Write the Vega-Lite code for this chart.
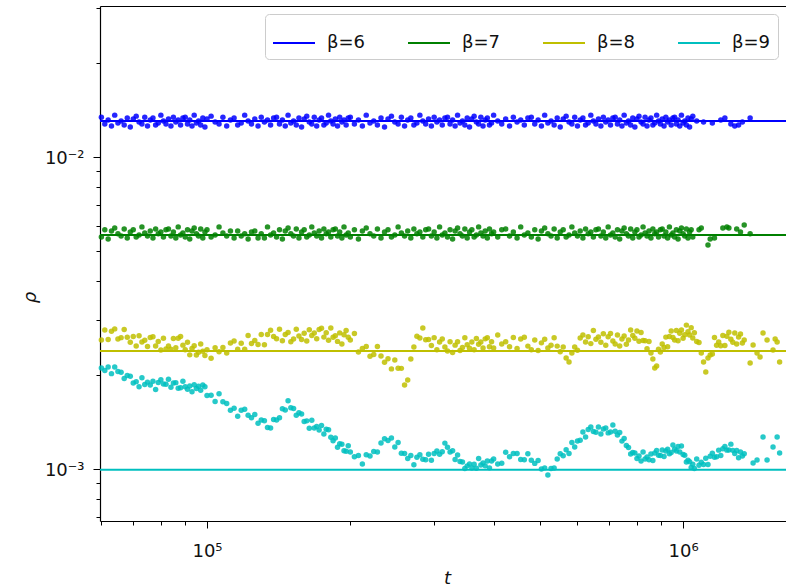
{
"$schema":"https://vega.github.io/schema/vega-lite/v6.json",
"width":686,"height":515,"autosize":"none",
"padding":{"left":100,"top":6,"right":0,"bottom":66},
"background":"white",
"config":{"font":"DejaVu Sans","view":{"stroke":null},
"axis":{"grid":false,"domainColor":"#000","domainWidth":1.2,"tickColor":"#000","tickWidth":1,"labelColor":"#111","titleColor":"#111","labelFontSize":18,"labelFont":"DejaVu Sans","titleFont":"DejaVu Sans"}},
"datasets":{
"pts":[
{"t":60000,"6":0.01342,"7":0.00554,"8":0.002591,"9":0.002107},
{"t":61000,"6":0.01276,"7":0.00584,"8":0.002787,"9":0.002068},
{"t":62000,"6":0.01314,"7":0.00546,"8":0.002599,"9":0.002123},
{"t":63000,"6":0.01258,"7":0.00579,"8":0.002761,"9":0.002021},
{"t":64000,"6":0.01362,"7":0.00592,"8":0.002812,"9":0.002123},
{"t":65000,"6":0.01285,"7":0.00567,"8":0.002610,"9":0.002054},
{"t":66000,"6":0.01304,"7":0.00558,"8":0.002636,"9":0.002040},
{"t":67000,"6":0.01267,"7":0.00588,"8":0.002800,"9":0.001949},
{"t":68000,"6":0.01333,"7":0.00550,"8":0.002644,"9":0.001992},
{"t":69000,"6":0.01248,"7":0.00575,"8":0.002549,"9":0.001982},
{"t":70000,"6":0.01323,"7":0.00584,"8":0.002657,"9":0.001887},
{"t":71000,"6":0.01352,"7":0.00554,"8":0.002480,"9":0.001905},
{"t":72000,"6":0.01295,"7":0.00562,"8":0.002674,"9":0.001835},
{"t":73000,"6":0.01276,"7":0.00597,"8":0.002551,"9":0.001962},
{"t":74000,"6":0.01342,"7":0.00571,"8":0.002585,"9":0.001866},
{"t":75000,"6":0.01258,"7":0.00558,"8":0.002471,"9":0.001898},
{"t":76000,"6":0.01314,"7":0.00579,"8":0.002638,"9":0.001859},
{"t":77000,"6":0.01333,"7":0.00550,"8":0.002653,"9":0.001909},
{"t":78000,"6":0.01267,"7":0.00588,"8":0.002480,"9":0.001797},
{"t":79000,"6":0.01285,"7":0.00567,"8":0.002561,"9":0.001893},
{"t":80000,"6":0.01362,"7":0.00575,"8":0.002405,"9":0.001932},
{"t":81000,"6":0.01304,"7":0.00554,"8":0.002626,"9":0.001873},
{"t":82000,"6":0.01276,"7":0.00584,"8":0.002425,"9":0.001869},
{"t":83000,"6":0.01323,"7":0.00588,"8":0.002478,"9":0.001938},
{"t":84000,"6":0.01258,"7":0.00558,"8":0.002418,"9":0.001829},
{"t":85000,"6":0.01342,"7":0.00575,"8":0.002620,"9":0.001887},
{"t":86000,"6":0.01295,"7":0.00550,"8":0.002445,"9":0.001891},
{"t":87000,"6":0.01314,"7":0.00597,"8":0.002622,"9":0.001815},
{"t":88000,"6":0.01267,"7":0.00562,"8":0.002659,"9":0.001821},
{"t":89000,"6":0.01333,"7":0.00571,"8":0.002494,"9":0.001909},
{"t":90000,"6":0.01342,"7":0.00554,"8":0.002410,"9":0.001834},
{"t":91000,"6":0.01276,"7":0.00584,"8":0.002547,"9":0.001800},
{"t":92000,"6":0.01314,"7":0.00546,"8":0.002321,"9":0.001846},
{"t":93000,"6":0.01258,"7":0.00579,"8":0.002434,"9":0.001769},
{"t":94000,"6":0.01362,"7":0.00592,"8":0.002483,"9":0.001863},
{"t":95000,"6":0.01285,"7":0.00567,"8":0.002317,"9":0.001812},
{"t":96000,"6":0.01304,"7":0.00558,"8":0.002367,"9":0.001840},
{"t":97000,"6":0.01267,"7":0.00588,"8":0.002517,"9":0.001789},
{"t":98000,"6":0.01333,"7":0.00550,"8":0.002383,"9":0.001858},
{"t":99000,"6":0.01248,"7":0.00575,"8":0.002309,"9":0.001834},
{"t":100000,"6":0.01323,"7":0.00584,"8":0.002412,"9":0.001721},
{"t":102000,"6":0.01352,"7":0.00554,"8":0.002262,"9":0.001723},
{"t":104000,"6":0.01295,"7":0.00562,"8":0.002445,"9":0.001646},
{"t":106000,"6":0.01276,"7":0.00597,"8":0.002376,"9":0.001743},
{"t":108000,"6":0.01342,"7":0.00571,"8":0.002451,"9":0.001641},
{"t":110000,"6":0.01258,"7":0.00558,"8":0.002353,"9":0.001620},
{"t":112000,"6":0.01314,"7":0.00579,"8":0.002534,"9":0.001542},
{"t":114000,"6":0.01333,"7":0.00550,"8":0.002572,"9":0.001566},
{"t":116000,"6":0.01267,"7":0.00579,"8":0.002421,"9":0.001475},
{"t":118000,"6":0.01285,"7":0.00558,"8":0.002530,"9":0.001542},
{"t":120000,"6":0.01362,"7":0.00567,"8":0.002418,"9":0.001553},
{"t":122000,"6":0.01304,"7":0.00546,"8":0.002678,"9":0.001486},
{"t":124000,"6":0.01276,"7":0.00575,"8":0.002524,"9":0.001460},
{"t":126000,"6":0.01323,"7":0.00579,"8":0.002581,"9":0.001494},
{"t":128000,"6":0.01258,"7":0.00550,"8":0.002505,"9":0.001402},
{"t":130000,"6":0.01342,"7":0.00567,"8":0.002696,"9":0.001436},
{"t":132000,"6":0.01295,"7":0.00550,"8":0.002502,"9":0.001428},
{"t":134000,"6":0.01314,"7":0.00597,"8":0.002698,"9":0.001359},
{"t":136000,"6":0.01267,"7":0.00562,"8":0.002783,"9":0.001352},
{"t":138000,"6":0.01333,"7":0.00571,"8":0.002659,"9":0.001440},
{"t":140000,"6":0.01342,"7":0.00554,"8":0.002614,"9":0.001435},
{"t":142000,"6":0.01276,"7":0.00584,"8":0.002806,"9":0.001460},
{"t":144000,"6":0.01314,"7":0.00546,"8":0.002577,"9":0.001559},
{"t":146000,"6":0.01258,"7":0.00579,"8":0.002696,"9":0.001545},
{"t":148000,"6":0.01362,"7":0.00592,"8":0.002739,"9":0.001655},
{"t":150000,"6":0.01285,"7":0.00567,"8":0.002555,"9":0.001572},
{"t":152000,"6":0.01304,"7":0.00558,"8":0.002610,"9":0.001562},
{"t":154000,"6":0.01267,"7":0.00588,"8":0.002802,"9":0.001487},
{"t":156000,"6":0.01333,"7":0.00550,"8":0.002669,"9":0.001514},
{"t":158000,"6":0.01248,"7":0.00575,"8":0.002599,"9":0.001499},
{"t":160000,"6":0.01323,"7":0.00584,"8":0.002722,"9":0.001419},
{"t":162000,"6":0.01352,"7":0.00554,"8":0.002572,"9":0.001426},
{"t":164000,"6":0.01295,"7":0.00562,"8":0.002793,"9":0.001350},
{"t":166000,"6":0.01276,"7":0.00597,"8":0.002680,"9":0.001432},
{"t":168000,"6":0.01342,"7":0.00571,"8":0.002726,"9":0.001354},
{"t":170000,"6":0.01258,"7":0.00558,"8":0.002614,"9":0.001369},
{"t":172000,"6":0.01314,"7":0.00579,"8":0.002797,"9":0.001333},
{"t":174000,"6":0.01333,"7":0.00550,"8":0.002825,"9":0.001377},
{"t":176000,"6":0.01267,"7":0.00588,"8":0.002646,"9":0.001295},
{"t":178000,"6":0.01285,"7":0.00567,"8":0.002732,"9":0.001340},
{"t":180000,"6":0.01362,"7":0.00575,"8":0.002585,"9":0.001335},
{"t":182000,"6":0.01304,"7":0.00554,"8":0.002832,"9":0.001263},
{"t":184000,"6":0.01276,"7":0.00584,"8":0.002642,"9":0.001232},
{"t":186000,"6":0.01323,"7":0.00588,"8":0.002671,"9":0.001256},
{"t":188000,"6":0.01258,"7":0.00558,"8":0.002564,"9":0.001173},
{"t":190000,"6":0.01342,"7":0.00575,"8":0.002730,"9":0.001204},
{"t":192000,"6":0.01295,"7":0.00550,"8":0.002517,"9":0.001199},
{"t":194000,"6":0.01314,"7":0.00597,"8":0.002694,"9":0.001144},
{"t":196000,"6":0.01267,"7":0.00562,"8":0.002777,"9":0.001140},
{"t":198000,"6":0.01333,"7":0.00571,"8":0.002642,"9":0.001187},
{"t":200000,"6":0.01342,"7":0.00554,"8":0.002591,"9":0.001133},
{"t":204000,"6":0.01276,"7":0.00584,"8":0.002716,"9":0.001094},
{"t":208000,"6":0.01314,"7":0.00546,"8":0.002371,"9":0.001105},
{"t":212000,"6":0.01258,"7":0.00579,"8":0.002432,"9":0.001038},
{"t":216000,"6":0.01362,"7":0.00592,"8":0.002471,"9":0.001111},
{"t":220000,"6":0.01285,"7":0.00567,"8":0.002297,"9":0.001100},
{"t":224000,"6":0.01304,"7":0.00558,"8":0.002326,"9":0.001137},
{"t":228000,"6":0.01267,"7":0.00588,"8":0.002469,"9":0.001134},
{"t":232000,"6":0.01333,"7":0.00550,"8":0.002302,"9":0.001212},
{"t":236000,"6":0.01248,"7":0.00575,"8":0.002198,"9":0.001250},
{"t":240000,"6":0.01323,"7":0.00584,"8":0.002257,"9":0.001233},
{"t":244000,"6":0.01352,"7":0.00554,"8":0.002093,"9":0.001257},
{"t":248000,"6":0.01295,"7":0.00562,"8":0.002235,"9":0.001175},
{"t":252000,"6":0.01276,"7":0.00597,"8":0.002104,"9":0.001216},
{"t":256000,"6":0.01342,"7":0.00571,"8":0.002101,"9":0.001122},
{"t":260000,"6":0.01258,"7":0.00558,"8":0.001859,"9":0.001121},
{"t":264000,"6":0.01314,"7":0.00579,"8":0.001929,"9":0.001080},
{"t":268000,"6":0.01333,"7":0.00550,"8":0.002252,"9":0.001104},
{"t":272000,"6":0.01267,"7":0.00588,"8":0.002460,"9":0.001032},
{"t":276000,"6":0.01285,"7":0.00567,"8":0.002661,"9":0.001090},
{"t":280000,"6":0.01362,"7":0.00575,"8":0.002630,"9":0.001111},
{"t":284000,"6":0.01304,"7":0.00554,"8":0.002832,"9":0.001075},
{"t":288000,"6":0.01276,"7":0.00584,"8":0.002597,"9":0.001071},
{"t":292000,"6":0.01323,"7":0.00588,"8":0.002601,"9":0.001115},
{"t":296000,"6":0.01258,"7":0.00558,"8":0.002487,"9":0.001067},
{"t":300000,"6":0.01342,"7":0.00575,"8":0.002636,"9":0.001120},
{"t":304000,"6":0.01295,"7":0.00550,"8":0.002409,"9":0.001142},
{"t":308000,"6":0.01314,"7":0.00597,"8":0.002553,"9":0.001114},
{"t":312000,"6":0.01267,"7":0.00562,"8":0.002610,"9":0.001136},
{"t":316000,"6":0.01333,"7":0.00571,"8":0.002458,"9":0.001210},
{"t":320000,"6":0.01342,"7":0.00554,"8":0.002388,"9":0.001173},
{"t":324000,"6":0.01276,"7":0.00584,"8":0.002559,"9":0.001133},
{"t":328000,"6":0.01314,"7":0.00546,"8":0.002364,"9":0.001143},
{"t":332000,"6":0.01258,"7":0.00579,"8":0.002494,"9":0.001072},
{"t":336000,"6":0.01362,"7":0.00592,"8":0.002557,"9":0.001109},
{"t":340000,"6":0.01285,"7":0.00567,"8":0.002396,"9":0.001057},
{"t":344000,"6":0.01304,"7":0.00558,"8":0.002449,"9":0.001053},
{"t":348000,"6":0.01267,"7":0.00588,"8":0.002632,"9":0.001003},
{"t":352000,"6":0.01333,"7":0.00550,"8":0.002503,"9":0.001023},
{"t":356000,"6":0.01248,"7":0.00575,"8":0.002436,"9":0.001038},
{"t":360000,"6":0.01323,"7":0.00584,"8":0.002551,"9":0.001007},
{"t":364000,"6":0.01352,"7":0.00554,"8":0.002409,"9":0.001035},
{"t":368000,"6":0.01295,"7":0.00562,"8":0.002620,"9":0.001005},
{"t":372000,"6":0.01276,"7":0.00597,"8":0.002511,"9":0.001081},
{"t":376000,"6":0.01342,"7":0.00571,"8":0.002553,"9":0.001030},
{"t":380000,"6":0.01258,"7":0.00558,"8":0.002441,"9":0.001045},
{"t":384000,"6":0.01314,"7":0.00579,"8":0.002612,"9":0.001023},
{"t":388000,"6":0.01333,"7":0.00550,"8":0.002634,"9":0.001061},
{"t":392000,"6":0.01267,"7":0.00588,"8":0.002463,"9":0.001008},
{"t":396000,"6":0.01285,"7":0.00567,"8":0.002559,"9":0.001061},
{"t":400000,"6":0.01362,"7":0.00575,"8":0.002441,"9":0.001077},
{"t":408000,"6":0.01304,"7":0.00554,"8":0.002688,"9":0.001038},
{"t":416000,"6":0.01276,"7":0.00584,"8":0.002515,"9":0.001043},
{"t":424000,"6":0.01323,"7":0.00588,"8":0.002555,"9":0.001131},
{"t":432000,"6":0.01258,"7":0.00558,"8":0.002463,"9":0.001094},
{"t":440000,"6":0.01342,"7":0.00575,"8":0.002638,"9":0.001120},
{"t":448000,"6":0.01295,"7":0.00550,"8":0.002434,"9":0.001120},
{"t":456000,"6":0.01314,"7":0.00597,"8":0.002610,"9":0.001072},
{"t":464000,"6":0.01267,"7":0.00562,"8":0.002644,"9":0.001071},
{"t":472000,"6":0.01333,"7":0.00571,"8":0.002476,"9":0.001118},
{"t":480000,"6":0.01342,"7":0.00554,"8":0.002410,"9":0.001067},
{"t":488000,"6":0.01276,"7":0.00584,"8":0.002591,"9":0.001042},
{"t":496000,"6":0.01314,"7":0.00546,"8":0.002398,"9":0.001064},
{"t":504000,"6":0.01258,"7":0.00579,"8":0.002536,"9":0.001000},
{"t":512000,"6":0.01362,"7":0.00592,"8":0.002604,"9":0.001008},
{"t":520000,"6":0.01285,"7":0.00567,"8":0.002441,"9":0.000957},
{"t":528000,"6":0.01304,"7":0.00558,"8":0.002491,"9":0.001004},
{"t":536000,"6":0.01267,"7":0.00588,"8":0.002634,"9":0.001007},
{"t":544000,"6":0.01333,"7":0.00550,"8":0.002476,"9":0.001077},
{"t":552000,"6":0.01248,"7":0.00575,"8":0.002377,"9":0.001118},
{"t":560000,"6":0.01323,"7":0.00584,"8":0.002460,"9":0.001102},
{"t":568000,"6":0.01352,"7":0.00554,"8":0.002268,"9":0.001152},
{"t":576000,"6":0.01295,"7":0.00562,"8":0.002203,"9":0.001121},
{"t":584000,"6":0.01276,"7":0.00597,"8":0.002353,"9":0.001216},
{"t":592000,"6":0.01342,"7":0.00571,"8":0.002460,"9":0.001176},
{"t":600000,"6":0.01258,"7":0.00558,"8":0.002400,"9":0.001230},
{"t":608000,"6":0.01314,"7":0.00579,"8":0.002630,"9":0.001235},
{"t":616000,"6":0.01333,"7":0.00550,"8":0.002688,"9":0.001314},
{"t":624000,"6":0.01267,"7":0.00588,"8":0.002553,"9":0.001267},
{"t":632000,"6":0.01285,"7":0.00567,"8":0.002653,"9":0.001339},
{"t":640000,"6":0.01362,"7":0.00575,"8":0.002522,"9":0.001364},
{"t":648000,"6":0.01304,"7":0.00554,"8":0.002779,"9":0.001318},
{"t":656000,"6":0.01276,"7":0.00584,"8":0.002604,"9":0.001311},
{"t":664000,"6":0.01323,"7":0.00588,"8":0.002648,"9":0.001363},
{"t":672000,"6":0.01258,"7":0.00558,"8":0.002549,"9":0.001295},
{"t":680000,"6":0.01342,"7":0.00575,"8":0.002714,"9":0.001344},
{"t":688000,"6":0.01295,"7":0.00550,"8":0.002491,"9":0.001354},
{"t":696000,"6":0.01314,"7":0.00597,"8":0.002653,"9":0.001305},
{"t":704000,"6":0.01267,"7":0.00562,"8":0.002720,"9":0.001314},
{"t":712000,"6":0.01333,"7":0.00571,"8":0.002572,"9":0.001384},
{"t":720000,"6":0.01342,"7":0.00554,"8":0.002515,"9":0.001320},
{"t":728000,"6":0.01276,"7":0.00584,"8":0.002688,"9":0.001285},
{"t":736000,"6":0.01314,"7":0.00546,"8":0.002478,"9":0.001308},
{"t":744000,"6":0.01258,"7":0.00579,"8":0.002610,"9":0.001228},
{"t":752000,"6":0.01362,"7":0.00592,"8":0.002669,"9":0.001253},
{"t":760000,"6":0.01285,"7":0.00567,"8":0.002509,"9":0.001189},
{"t":768000,"6":0.01304,"7":0.00558,"8":0.002591,"9":0.001172},
{"t":776000,"6":0.01267,"7":0.00588,"8":0.002791,"9":0.001116},
{"t":784000,"6":0.01333,"7":0.00550,"8":0.002678,"9":0.001130},
{"t":792000,"6":0.01248,"7":0.00575,"8":0.002624,"9":0.001125},
{"t":800000,"6":0.01323,"7":0.00584,"8":0.002766,"9":0.001081},
{"t":808000,"6":0.01352,"7":0.00554,"8":0.002568,"9":0.001101},
{"t":816000,"6":0.01295,"7":0.00562,"8":0.002739,"9":0.001061},
{"t":824000,"6":0.01276,"7":0.00597,"8":0.002581,"9":0.001134},
{"t":832000,"6":0.01342,"7":0.00571,"8":0.002577,"9":0.001077},
{"t":840000,"6":0.01258,"7":0.00558,"8":0.002428,"9":0.001093},
{"t":848000,"6":0.01314,"7":0.00579,"8":0.002561,"9":0.001071},
{"t":856000,"6":0.01333,"7":0.00550,"8":0.002353,"9":0.001117},
{"t":864000,"6":0.01267,"7":0.00588,"8":0.002252,"9":0.001064},
{"t":872000,"6":0.01285,"7":0.00567,"8":0.002107,"9":0.001125},
{"t":880000,"6":0.01362,"7":0.00575,"8":0.002138,"9":0.001145},
{"t":888000,"6":0.01304,"7":0.00554,"8":0.002421,"9":0.001107},
{"t":896000,"6":0.01276,"7":0.00584,"8":0.002371,"9":0.001104},
{"t":904000,"6":0.01323,"7":0.00588,"8":0.002515,"9":0.001150},
{"t":912000,"6":0.01258,"7":0.00558,"8":0.002449,"9":0.001097},
{"t":920000,"6":0.01342,"7":0.00575,"8":0.002646,"9":0.001142},
{"t":928000,"6":0.01295,"7":0.00550,"8":0.002463,"9":0.001156},
{"t":936000,"6":0.01314,"7":0.00597,"8":0.002659,"9":0.001118},
{"t":944000,"6":0.01267,"7":0.00562,"8":0.002766,"9":0.001130},
{"t":952000,"6":0.01333,"7":0.00571,"8":0.002640,"9":0.001194},
{"t":960000,"6":0.01342,"7":0.00554,"8":0.002591,"9":0.001156},
{"t":968000,"6":0.01276,"7":0.00584,"8":0.002779,"9":0.001142},
{"t":976000,"6":0.01314,"7":0.00546,"8":0.002574,"9":0.001181},
{"t":984000,"6":0.01258,"7":0.00579,"8":0.002722,"9":0.001134},
{"t":992000,"6":0.01362,"7":0.00592,"8":0.002791,"9":0.001185},
{"t":1000000,"6":0.01285,"7":0.00567,"8":0.002624,"9":0.001113},
{"t":1008000,"6":0.01304,"7":0.00558,"8":0.002694,"9":0.001106},
{"t":1016000,"6":0.01267,"7":0.00588,"8":0.002891,"9":0.001053},
{"t":1024000,"6":0.01333,"7":0.00550,"8":0.002755,"9":0.001067},
{"t":1032000,"6":0.01248,"7":0.00575,"8":0.002688,"9":0.001054},
{"t":1040000,"6":0.01323,"7":0.00584,"8":0.002838,"9":0.001011},
{"t":1048000,"6":0.01352,"7":0.00554,"8":0.002630,"9":0.001036},
{"t":1056000,"8":0.002734,"9":0.001003},
{"t":1068000,"6":0.01304,"8":0.002561,"9":0.001077},
{"t":1080000,"7":0.00584,"8":0.002542,"9":0.001028},
{"t":1092000,"7":0.00592,"8":0.002353,"9":0.001050},
{"t":1104000,"6":0.01295,"8":0.002203,"9":0.001034},
{"t":1116000,"8":0.002045,"9":0.001082},
{"t":1128000,"7":0.00522,"8":0.002268,"9":0.001034},
{"t":1140000,"7":0.00546,"8":0.002319,"9":0.001098},
{"t":1152000,"6":0.01285,"8":0.002336,"9":0.001122},
{"t":1164000,"7":0.00550,"8":0.002640,"9":0.001090},
{"t":1176000,"8":0.002491,"9":0.001094},
{"t":1188000,"8":0.002551,"9":0.001149},
{"t":1200000,"6":0.01314,"8":0.002481,"9":0.001105},
{"t":1212000,"7":0.00592,"8":0.002676,"9":0.001160},
{"t":1224000,"6":0.01333,"8":0.002487,"9":0.001180},
{"t":1236000,"7":0.00597,"8":0.002661,"9":0.001149},
{"t":1248000,"7":0.00592,"8":0.002741,"9":0.001151},
{"t":1260000,"6":0.01276,"8":0.002604,"9":0.001201},
{"t":1272000,"8":0.002549,"9":0.001147},
{"t":1284000,"6":0.01258,"8":0.002726,"9":0.001120},
{"t":1296000,"7":0.00588,"8":0.002515,"9":0.001145},
{"t":1308000,"6":0.01267,"8":0.002649,"9":0.001087},
{"t":1320000,"7":0.00575,"8":0.002707,"9":0.001134},
{"t":1332000,"6":0.01295,"8":0.002534,"9":0.001101},
{"t":1344000,"7":0.00605,"8":0.002591,"9":0.001118},
{"t":1383000,"6":0.01333,"7":0.00567,"8":0.002186},
{"t":1403000,"8":0.002496,"9":0.001045},
{"t":1430000,"8":0.002353,"9":0.001069},
{"t":1451000,"8":0.002285},
{"t":1472000,"8":0.002728,"9":0.001267},
{"t":1501000,"8":0.002591,"9":0.001069},
{"t":1545000,"8":0.002405,"9":0.001176},
{"t":1561000,"8":0.002610},
{"t":1576000,"8":0.002553,"9":0.001267},
{"t":1595000,"8":0.002203,"9":0.001125}
],
"ref":[
{"t":59600,"rho":0.01304,"beta":"6"},{"t":1645000,"rho":0.01304,"beta":"6"},
{"t":59600,"rho":0.00562,"beta":"7"},{"t":1645000,"rho":0.00562,"beta":"7"},
{"t":59600,"rho":0.00239,"beta":"8"},{"t":1645000,"rho":0.00239,"beta":"8"},
{"t":59600,"rho":0.000995,"beta":"9"},{"t":1645000,"rho":0.000995,"beta":"9"}
]},
"layer":[
{"data":{"name":"pts"},
"transform":[{"fold":["6","7","8","9"],"as":["beta","rho"]},{"filter":"isValid(datum.rho)"}],
"mark":{"type":"circle","size":30,"opacity":0.85},
"encoding":{
"x":{"field":"t","type":"quantitative","scale":{"type":"log","domain":[59600,1645000],"nice":false},
"axis":{"orient":"bottom","values":[60000,70000,80000,90000,100000,200000,300000,400000,500000,600000,700000,800000,900000,1000000],
"labelExpr":"datum.value==100000?'10⁵':(datum.value==1000000?'10⁶':'')",
"tickSize":{"condition":{"test":"datum.value==100000||datum.value==1000000","value":7},"value":4},
"labelPadding":14,"labelFlush":false,"labelOverlap":false,
"title":"t","titleFontStyle":"italic","titleFontWeight":"normal","titleFontSize":18,"titleX":347,"titleY":57,"titleBaseline":"middle"}},
"y":{"field":"rho","type":"quantitative","scale":{"type":"log","domain":[0.000681,0.03048],"nice":false},
"axis":{"orient":"left","values":[0.0007,0.0008,0.0009,0.001,0.002,0.003,0.004,0.005,0.006,0.007,0.008,0.009,0.01,0.02,0.03],
"labelExpr":"datum.value==0.01?'10⁻²':(datum.value==0.001?'10⁻³':'')",
"tickSize":{"condition":{"test":"datum.value==0.01||datum.value==0.001","value":7},"value":4},
"labelPadding":9,"labelOffset":2,"labelFlush":false,"labelOverlap":false,
"title":"ρ","titleFontStyle":"italic","titleFontWeight":"normal","titleFontSize":18,"titleX":-70,"titleY":291,"titleAlign":"center","titleBaseline":"middle"}},
"color":{"field":"beta","type":"nominal","scale":{"domain":["6","7","8","9"],"range":["#0000ff","#008000","#bfbf00","#00bfbf"]},"legend":null}
}},
{"data":{"name":"ref"},
"mark":{"type":"line","strokeWidth":2,"clip":true},
"encoding":{
"x":{"field":"t","type":"quantitative","axis":{"orient":"top","labels":false,"ticks":false,"title":null,"domain":true}},
"y":{"field":"rho","type":"quantitative"},
"color":{"field":"beta","type":"nominal",
"legend":{"orient":"none","legendX":165,"legendY":8,"direction":"horizontal","columns":4,"symbolType":"stroke","symbolSize":1764,"symbolStrokeWidth":2,"labelFontSize":18,"labelOffset":11,"columnPadding":38,"padding":7,"fillColor":"white","strokeColor":"#cccccc","cornerRadius":4,"title":null,"labelExpr":"'β=' + datum.label","labelColor":"#111"}}
}}
],
"resolve":{"axis":{"x":"independent"},"legend":{"color":"independent"}}
}
